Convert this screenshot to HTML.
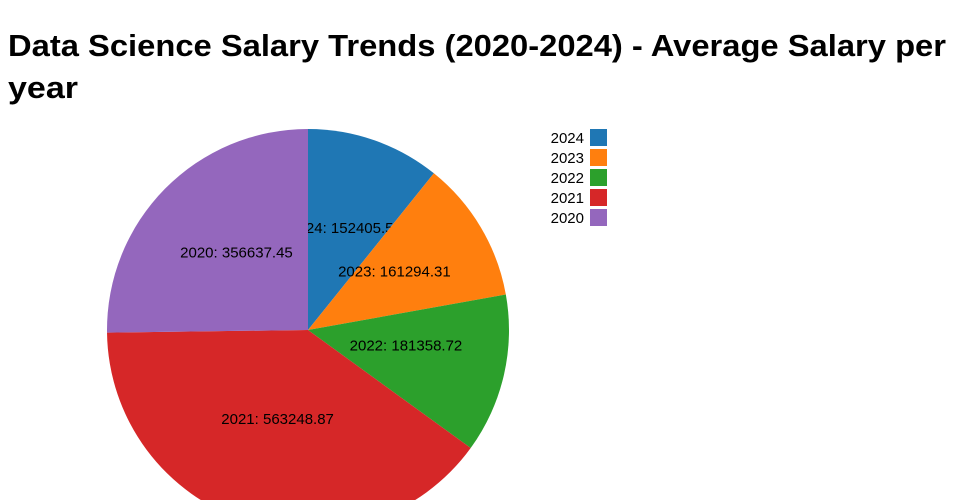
<!DOCTYPE html>
<html><head><meta charset="utf-8"><style>
html,body{margin:0;padding:0;background:#fff;width:960px;height:500px;overflow:hidden;font-family:"Liberation Sans",sans-serif}
svg{display:block;overflow:hidden}
</style></head><body>
<svg width="960" height="500" viewBox="0 0 960 500">
<defs><clipPath id="frame"><rect x="0" y="0" width="960" height="500"/></clipPath></defs>
<g id="slices" clip-path="url(#frame)"></g>
<g id="legend"></g>
<text x="8" y="56" font-size="31" font-weight="bold" fill="#000" textLength="938" lengthAdjust="spacingAndGlyphs">Data Science Salary Trends (2020-2024) - Average Salary per</text>
<text x="8" y="98" font-size="31" font-weight="bold" fill="#000" textLength="70" lengthAdjust="spacingAndGlyphs">year</text>
</svg>
<script>
const categories=["2024","2023","2022","2021","2020"];
const values=[152405.5,161294.31,181358.72,563248.87,356637.45];
const labels=["152405.5","161294.31","181358.72","563248.87","356637.45"];
const colors=["#1f77b4","#ff7f0e","#2ca02c","#d62728","#9467bd"];
const NS="http://www.w3.org/2000/svg";
const cx=308,cy=330,R=201;
const total=values.reduce((a,b)=>a+b,0);
const g=document.getElementById('slices');
let a0=0;
function pt(a,r){return [cx+r*Math.sin(a),cy-r*Math.cos(a)];}
values.forEach((v,i)=>{
  const a1=a0+v/total*2*Math.PI;
  const p0=pt(a0,R),p1=pt(a1,R);
  const large=(a1-a0)>Math.PI?1:0;
  const d=`M${cx},${cy}L${p0[0]},${p0[1]}A${R},${R} 0 ${large} 1 ${p1[0]},${p1[1]}Z`;
  const p=document.createElementNS(NS,'path');
  p.setAttribute('d',d);p.setAttribute('fill',colors[i]);
  
  
  g.appendChild(p);
  const m=(a0+a1)/2,lp=pt(m,R*0.5);
  const t=document.createElementNS(NS,'text');
  t.setAttribute('x',lp[0]);t.setAttribute('y',lp[1]-2);
  t.setAttribute('text-anchor','middle');t.setAttribute('font-size','15');
  t.textContent=categories[i]+': '+labels[i];
  
  
  g.appendChild(t);
  a0=a1;
});
const lg=document.getElementById('legend');
categories.forEach((c,i)=>{
  const y=129+i*20;
  const r=document.createElementNS(NS,'rect');
  r.setAttribute('x',590);r.setAttribute('y',y);r.setAttribute('width',17);r.setAttribute('height',17);r.setAttribute('fill',colors[i]);
  
  
  lg.appendChild(r);
  const t=document.createElementNS(NS,'text');
  t.setAttribute('x',584);t.setAttribute('y',y+14);t.setAttribute('text-anchor','end');t.setAttribute('font-size','15');
  t.textContent=c;
  
  
  lg.appendChild(t);
});
</script>
</body></html>
